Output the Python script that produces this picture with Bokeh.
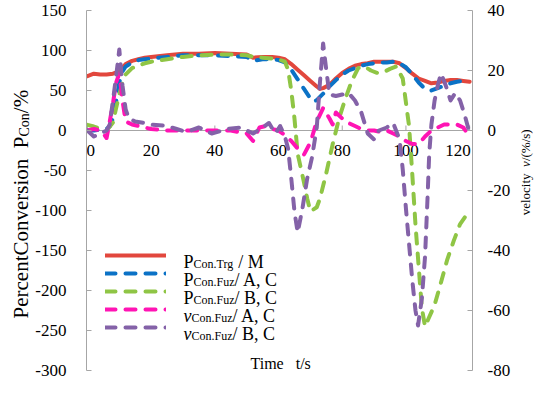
import math
from bokeh.plotting import figure
from bokeh.layouts import row
from bokeh.models import Range1d, LinearAxis, FixedTicker, Span, Label, Legend, LegendItem
from bokeh.core.properties import value
from bokeh.embed import file_html
from bokeh.resources import INLINE

# ---------------- data ----------------
x_ticks = [0, 20, 40, 60, 80, 100, 120]
x_tick_labels = ["0", "20", "40", "60", "80", "100", "120"]
left_ticks = [150, 100, 50, 0, -50, -100, -150, -200, -250, -300]
left_tick_labels = ["150", "100", "50", "0", "-50", "-100", "-150", "-200", "-250", "-300"]
right_ticks = [40, 20, 0, -20, -40, -60, -80]
right_tick_labels = ["40", "20", "0", "-20", "-40", "-60", "-80"]

# P_Con.Trg / M
t_trg = [0, 2, 4, 6, 8, 10, 12, 14, 16, 18, 20, 25, 30, 35, 40, 45, 50, 52, 55, 58, 60, 62, 64, 66, 68, 70,
         72, 73, 74, 76, 78, 80, 82, 84, 86, 88, 90, 92, 94, 96, 98, 100, 102, 104, 106, 108, 110, 112, 114,
         116, 118, 120]
p_trg = [68, 71, 70, 70, 71, 74, 83, 87, 89, 91, 92, 94, 96, 96, 97, 96, 95, 91, 92, 92, 91, 89, 83, 76, 69, 62,
         55, 52, 53, 57, 65, 72, 77, 81, 83, 84, 86, 86, 86, 86, 84, 78, 71, 65, 62, 59, 60, 62, 63,
         63, 62, 61]

# P_Con.Fuz / A, C
t_fa = [0, 2, 4, 6, 7, 8, 9, 10, 11, 12, 14, 16, 18, 20, 25, 30, 35, 40, 45, 50, 52, 55, 58, 60, 62, 64, 66, 68,
        70, 71, 72, 74, 76, 78, 80, 82, 84, 86, 88, 90, 92, 94, 96, 98, 100, 102, 104, 106, 108, 110, 112, 114,
        116, 118, 120]
p_fa = [0, 0, 1, 2, 5, 15, 36, 60, 74, 80, 85, 88, 89, 90, 92, 94, 94, 94, 93, 92, 87, 89, 89, 88, 85, 76, 64, 52,
        40, 36, 38, 46, 55, 63, 70, 75, 78, 81, 83, 84, 85, 85, 86, 84, 79, 70, 60, 52, 50, 53, 56, 59,
        61, 62, 61]

# P_Con.Fuz / B, C
t_fb = [0, 2, 4, 6, 8, 9, 10, 11, 12, 14, 16, 18, 20, 25, 30, 35, 40, 45, 50, 52, 55, 58, 60, 62, 63, 64, 65, 66,
        68, 69, 70, 72, 73, 75, 77, 79, 81, 83, 85, 87, 89, 91, 93, 95, 97, 99, 100, 101, 102, 103, 104, 105,
        106, 107, 109, 111, 113, 115, 117, 120]
p_fb = [7, 5, 2, 0, 10, 28, 45, 60, 70, 78, 81, 84, 86, 89, 92, 94, 95, 95, 94, 92, 91, 90, 89, 86, 76, 50, 15, -29,
        -65, -85, -101, -96, -85, -53, -17, 15, 40, 62, 78, 80, 75, 72, 73, 77, 80, 65, 35, 5, -55, -118, -170, -222,
        -245, -236, -218, -190, -161, -138, -117, -100]

# v_Con.Fuz / A, C  (right axis)
t_va = [0, 2, 4, 5, 6, 7, 8, 9, 10, 11, 12, 14, 16, 18, 20, 25, 30, 35, 40, 45, 50, 52, 54, 56, 58, 60, 62, 64,
        66, 68, 70, 72, 74, 76, 77, 78, 80, 82, 84, 86, 88, 90, 92, 94, 96, 98, 100, 102, 104, 106, 108, 110,
        112, 114, 116, 118, 120]
v_va = [0, 0.5, 0, -1, -2.5, 3, 9, 16, 19, 10, 3, 2, 1.5, 1, 0.5, 0, 0, 0, 0, 0, -1, -3.5, 1, 1.5, 0.5, 0, -1.5, -3.5,
        -6, -8, -4, 3, 7.5, 4, 2, 6, 4, 2.5, 1.5, 0.5, 0, 0, -0.5, 0, -1, -2, -3.5, -4.5, -4.5, -2, 0, 1,
        2, 2, 2, 1, -2]

# v_Con.Fuz / B, C  (right axis)
t_vb = [0, 2, 4, 6, 7, 8, 9, 10, 11, 12, 13, 15, 18, 20, 25, 28, 31, 35, 39, 44, 48, 52, 55, 57, 59, 60.5, 62, 63,
        64, 65, 66, 67.5, 69, 70.5, 72, 73, 74, 75, 76, 78, 80, 82, 84, 86, 88, 90, 91.5, 94, 96, 98, 99, 100,
        101, 102, 103, 103.8, 105, 106, 106.8, 107.3, 108, 109, 110, 111, 112.5, 114, 115.5, 117, 118.5, 120]
v_vb = [0, -2, -1, 0, 2, 10, 18, 27, 15, 7, 4, 3, 2.5, 2, 1.5, 0.5, -0.5, 1, -1, 0.5, 1, -1, 1, 2.5, -1, 1.5, -2, -6,
        -16, -27, -34, -26, -16, -9, 1, 16, 29, 20, 12, 11.5, 12, 12.5, 10, 6, -1, -3, 0, 1, 2.5, -3, -13, -26,
        -38, -50, -60, -65, -56, -42, -22, -8, 2, 10, 15, 19, 15, 10, 12.5, 10, 5, -1]

RED = "#E2473D"
BLUE = "#0B72C6"
GREEN = "#8FC545"
MAGENTA = "#FF14B4"
PURPLE = "#8462A8"
GRAY = "#A6A6A6"
SERIF = "Liberation Serif"
H = 381


def strip(w):
    f = figure(width=w, height=H, output_backend="svg", toolbar_location=None,
               x_range=Range1d(0, w), y_range=Range1d(0, H),
               x_axis_location=None, y_axis_location=None,
               min_border_left=0, min_border_right=0, min_border_top=0, min_border_bottom=0)
    f.outline_line_color = None
    f.grid.visible = False
    return f


def lab(fig, x, y, text, size, angle=0.0, style="normal", baseline="alphabetic"):
    fig.add_layout(Label(x=x, y=y, x_units="screen", y_units="screen", text=text, text_font=SERIF,
                         text_font_size=size, text_font_style=style, angle=angle, text_align="left",
                         text_baseline=baseline, text_color="black"))


A = math.pi / 2

# ---------------- left strip: y-axis title ----------------
left = strip(32)
lab(left, 20, 52, "PercentConversion\u00a0\u00a0P", "21px", angle=A, baseline="middle")
lab(left, 24, 234, "Con", "14px", angle=A, baseline="middle")
lab(left, 20, 257.3, "/%", "21px", angle=A, baseline="middle")

# ---------------- main plot ----------------
p = figure(width=486, height=H, output_backend="svg", toolbar_location=None,
           x_range=Range1d(-0.3, 120.9), y_range=Range1d(-300, 150),
           x_axis_location=None,
           min_border_left=54, min_border_right=46, min_border_top=10, min_border_bottom=11)
p.extra_y_ranges = {"vel": Range1d(-80, 40)}
p.outline_line_color = None
p.grid.visible = False
p.background_fill_color = "white"

ya = p.yaxis[0]
ya.ticker = FixedTicker(ticks=left_ticks)
ya.major_label_overrides = dict(zip(left_ticks, left_tick_labels))
ya.axis_line_color = GRAY
ya.major_tick_line_color = GRAY
ya.major_tick_in = 5
ya.major_tick_out = 0
ya.minor_tick_line_color = None
ya.major_label_standoff = 20
ya.major_label_text_font = SERIF
ya.major_label_text_font_size = "17px"
ya.major_label_text_color = "black"

ra = LinearAxis(y_range_name="vel", ticker=FixedTicker(ticks=right_ticks),
                major_label_overrides=dict(zip(right_ticks, right_tick_labels)))
ra.axis_line_color = GRAY
ra.major_tick_line_color = GRAY
ra.major_tick_in = 5
ra.major_tick_out = 0
ra.minor_tick_line_color = None
ra.major_label_standoff = 15
ra.major_label_text_font = SERIF
ra.major_label_text_font_size = "17px"
ra.major_label_text_color = "black"
p.add_layout(ra, "right")

# zero line acting as the x axis
p.add_layout(Span(location=0, dimension="width", line_color=GRAY, line_width=1, level="underlay"))
p.ray(x=x_ticks, y=[0] * len(x_ticks), length=5, length_units="screen", angle=math.pi / 2,
      line_color=GRAY, line_width=1, level="underlay")
tick_style = dict(text_font=value(SERIF), text_font_size=value("17px"), text_baseline="middle",
                  y_offset=20, text_color="black")
p.text(x=x_ticks[:1], y=[0], text=x_tick_labels[:1], text_align="left", x_offset=-1, **tick_style)
p.text(x=x_ticks[1:-1], y=[0] * (len(x_ticks) - 2), text=x_tick_labels[1:-1], text_align="center",
       **tick_style)
p.text(x=x_ticks[-1:], y=[0], text=x_tick_labels[-1:], text_align="right", x_offset=1, **tick_style)

DASH = "10 10"
r1 = p.line(t_trg, p_trg, line_color=RED, line_width=4, line_join="round", line_cap="round")
r2 = p.line(t_fa, p_fa, line_color=BLUE, line_width=4, line_dash=DASH, line_join="round", line_cap="round")
r3 = p.line(t_fb, p_fb, line_color=GREEN, line_width=4, line_dash=DASH, line_join="round", line_cap="round")
r4 = p.line(t_va, v_va, y_range_name="vel", line_color=MAGENTA, line_width=4, line_dash=DASH,
            line_join="round", line_cap="round")
r5 = p.line(t_vb, v_vb, y_range_name="vel", line_color=PURPLE, line_width=4, line_dash=DASH,
            line_join="round", line_cap="round")

legend = Legend(items=[LegendItem(label=" ", renderers=[r]) for r in (r1, r2, r3, r4, r5)],
                location=(19, 34), orientation="vertical", glyph_width=61, glyph_height=18,
                label_height=18, label_width=1, spacing=0, padding=0, margin=0, label_standoff=0,
                label_text_font_size="1px", border_line_color=None, background_fill_alpha=0)
p.add_layout(legend)

# legend texts (frame-relative screen units; frame bottom = 0)
rows = [("P", "normal", "Con.Trg", "\u00a0/ M", 40.3),
        ("P", "normal", "Con.Fuz", "/ A, C", 41.0),
        ("P", "normal", "Con.Fuz", "/ B, C", 41.0),
        ("v", "italic", "Con.Fuz", "/ A, C", 41.0),
        ("v", "italic", "Con.Fuz", "/ B, C", 41.0)]
centers = [115, 97, 79, 61, 43]
for (m, st, sub, suf, sw), c in zip(rows, centers):
    mw = 10.0 if m == "P" else 8.0
    lab(p, 97, c - 6, m, "18px", style=st)
    lab(p, 97 + mw, c - 8, sub, "12px")
    lab(p, 97 + mw + sw, c - 6, suf, "18px")

# x axis title
lab(p, 164, 7, "Time\u00a0\u00a0\u00a0t/s", "16px")

# ---------------- right strip: secondary y-axis title ----------------
right = strip(16)
lab(right, 6.5, 155.2, "velocity\u00a0\u00a0", "13px", angle=A, baseline="middle")
lab(right, 6.5, 203.6, "v", "13px", angle=A, style="italic", baseline="middle")
lab(right, 6.5, 209.4, "/(%/s)", "13px", angle=A, baseline="middle")

layout = row(left, p, right)
open("out.html", "w").write(file_html(layout, INLINE))
